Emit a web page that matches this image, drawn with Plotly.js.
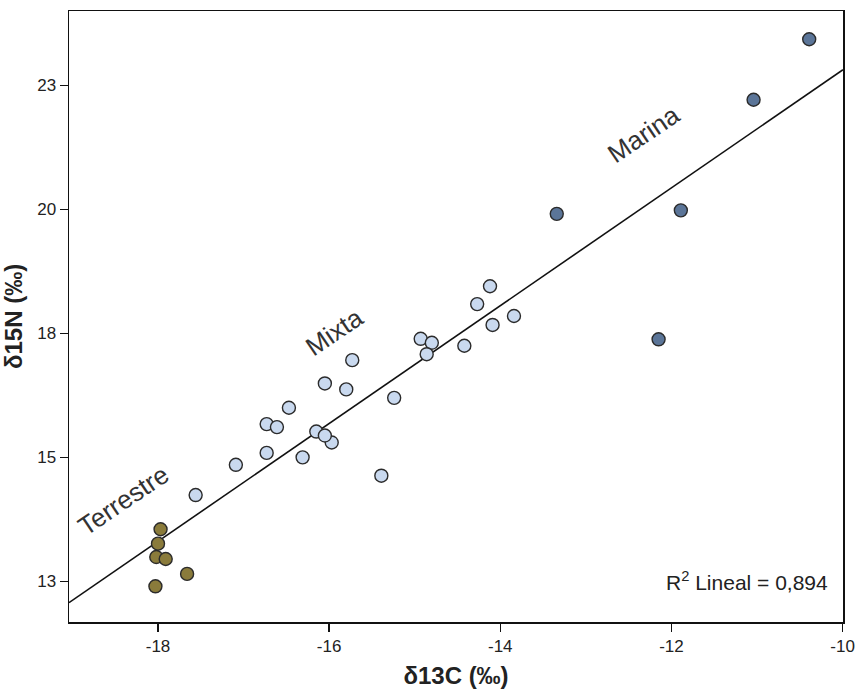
<!DOCTYPE html>
<html>
<head>
<meta charset="utf-8">
<script src="https://cdn.plot.ly/plotly-3.0.1.min.js"></script>
<style>html,body{margin:0;padding:0;background:#fff;}#chart{width:855px;height:691px;}</style>
</head>
<body>
<div id="chart"></div>
<script>
// Terrestre group
const terrestreC = [-17.97, -18.00, -18.02, -17.91, -17.66, -18.03];
const terrestreN = [13.55, 13.26, 12.99, 12.95, 12.65, 12.40];
// Mixta group
const mixtaC = [-17.56, -17.09, -16.73, -16.31, -15.97, -15.39, -14.12, -14.27, -13.84, -14.09, -14.93, -14.80,
                -14.86, -14.42, -15.73, -16.05, -15.80, -15.24, -16.47, -16.73, -16.61, -16.15, -16.05];
const mixtaN = [14.24, 14.85, 15.09, 15.00, 15.30, 14.63, 18.45, 18.09, 17.85, 17.67, 17.39, 17.31,
                17.08, 17.25, 16.96, 16.49, 16.37, 16.20, 16.00, 15.67, 15.61, 15.52, 15.44];
// Marina group
const marinaC = [-13.34, -11.89, -12.15, -11.04, -10.39];
const marinaN = [19.91, 19.98, 17.38, 22.21, 23.43];
// Linear fit as drawn
const fitSlope = 1.188;
const fitIntercept = 34.69;
const fitR2 = "0,894";
// Axis ticks
const xTickVals = [-18, -16, -14, -12, -10];
const xTickText = ["-18", "-16", "-14", "-12", "-10"];
const yTickVals = [12.5, 15, 17.5, 20, 22.5];
const yTickText = ["13", "15", "18", "20", "23"];
const xRange = [-19.04, -9.995];
const yRange = [11.68, 24.0];

const FONT = "Liberation Sans, Arial, sans-serif";
const fitX = [xRange[0], xRange[1]];
const fitY = fitX.map(x => fitSlope * x + fitIntercept);

function pts(x, y, color) {
  return {x: x, y: y, type: 'scatter', mode: 'markers', cliponaxis: false, hoverinfo: 'skip',
    marker: {size: 13, color: color, line: {color: '#2b2b2b', width: 1.4}}};
}

const data = [
  {x: fitX, y: fitY, type: 'scatter', mode: 'lines', line: {color: '#111', width: 1.6}, hoverinfo: 'skip'},
  pts(terrestreC, terrestreN, '#8a7b3b'),
  pts(mixtaC, mixtaN, '#c9d9ef'),
  pts(marinaC, marinaN, '#5b7598')
];

const layout = {
  width: 855, height: 691,
  margin: {l: 69, r: 12, t: 11, b: 69},
  paper_bgcolor: '#fff', plot_bgcolor: '#fff',
  showlegend: false,
  font: {family: FONT, color: '#222'},
  xaxis: {
    range: xRange, tickvals: xTickVals, ticktext: xTickText, ticks: 'outside', ticklen: 8, tickwidth: 1.5, tickcolor: '#111',
    showgrid: false, zeroline: false, showline: true, mirror: true, linecolor: '#111', linewidth: 1.5,
    tickfont: {size: 17, family: FONT, color: '#222'},
    title: {text: 'δ13C (‰)', font: {size: 24, family: FONT, color: '#222', weight: 'bold'}, standoff: 12}
  },
  yaxis: {
    range: yRange, tickvals: yTickVals, ticktext: yTickText, ticks: 'outside', ticklen: 8, tickwidth: 1.5, tickcolor: '#111',
    showgrid: false, zeroline: false, showline: true, mirror: true, linecolor: '#111', linewidth: 1.5,
    tickfont: {size: 17, family: FONT, color: '#222'},
    title: {text: 'δ15N (‰)', font: {size: 24, family: FONT, color: '#222', weight: 'bold'}, standoff: 8}
  },
  annotations: [
    {x: -18.40, y: 14.14, xref: 'x', yref: 'y', text: 'Terrestre', showarrow: false, textangle: -34,
     font: {size: 26, family: FONT, color: '#333'}},
    {x: -15.94, y: 17.53, xref: 'x', yref: 'y', text: 'Mixta', showarrow: false, textangle: -34,
     font: {size: 26, family: FONT, color: '#333'}},
    {x: -12.32, y: 21.51, xref: 'x', yref: 'y', text: 'Marina', showarrow: false, textangle: -34,
     font: {size: 26, family: FONT, color: '#333'}},
    {x: 0.983, y: 0.067, xref: 'paper', yref: 'paper', xanchor: 'right', yanchor: 'middle',
     text: 'R<sup>2</sup> Lineal = ' + fitR2, showarrow: false, font: {size: 21, family: FONT, color: '#222'}}
  ]
};

Plotly.newPlot('chart', data, layout, {staticPlot: true, displayModeBar: false});
</script>
</body>
</html>
